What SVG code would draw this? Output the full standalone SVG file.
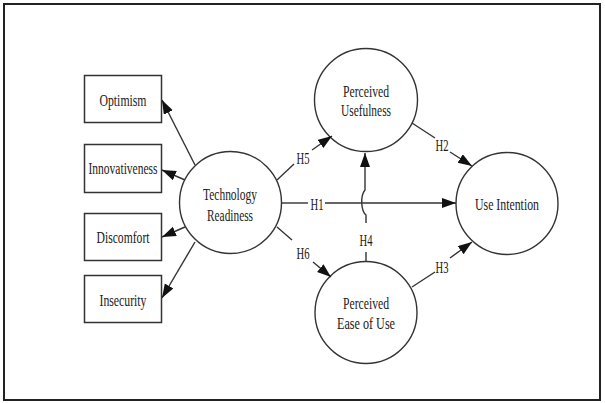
<svg xmlns="http://www.w3.org/2000/svg" width="605" height="403" viewBox="0 0 605 403">
<style>
.frame{fill:#fff;stroke:#222;stroke-width:2}
.box{fill:#fff;stroke:#333;stroke-width:1.5}
.node{fill:#fff;stroke:#333;stroke-width:1.4}
.t{font-family:"Liberation Serif","Times New Roman",serif;font-size:17px;fill:#1a1a1a;text-anchor:middle}
.lbl{font-family:"Liberation Serif","Times New Roman",serif;font-size:16px;fill:#1a1a1a;text-anchor:middle}
.ln{fill:none;stroke:#333;stroke-width:1.4}
</style>
<defs>
<marker id="ah" markerUnits="userSpaceOnUse" markerWidth="15" markerHeight="11" refX="14" refY="5" orient="auto">
<path d="M0,0 L14,5 L0,10 z" fill="#111"/>
</marker>
</defs>
<rect class="frame" x="4" y="4" width="596" height="396"/>

<g id="optimism"><rect class="box" x="84.5" y="75.5" width="77" height="47"/><text class="t" x="123" y="105.5" textLength="47" lengthAdjust="spacingAndGlyphs">Optimism</text></g>
<g id="innovativeness"><rect class="box" x="84.5" y="144.5" width="77" height="48"/><text class="t" x="123" y="173.5" textLength="69" lengthAdjust="spacingAndGlyphs">Innovativeness</text></g>
<g id="discomfort"><rect class="box" x="84.5" y="213.5" width="77" height="47"/><text class="t" x="123" y="242.5" textLength="53" lengthAdjust="spacingAndGlyphs">Discomfort</text></g>
<g id="insecurity"><rect class="box" x="84.5" y="275.5" width="77" height="47"/><text class="t" x="123" y="305.5" textLength="47" lengthAdjust="spacingAndGlyphs">Insecurity</text></g>

<g id="technology-readiness"><circle class="node" cx="230.5" cy="202.5" r="51"/><text class="t" x="230" y="199.5" textLength="54" lengthAdjust="spacingAndGlyphs">Technology</text><text class="t" x="230" y="220.5" textLength="46" lengthAdjust="spacingAndGlyphs">Readiness</text></g>
<g id="perceived-usefulness"><circle class="node" cx="366" cy="100" r="51.5"/><text class="t" x="366" y="96.5" textLength="46" lengthAdjust="spacingAndGlyphs">Perceived</text><text class="t" x="366" y="115.5" textLength="50" lengthAdjust="spacingAndGlyphs">Usefulness</text></g>
<g id="perceived-ease-of-use"><circle class="node" cx="366" cy="312.5" r="51"/><text class="t" x="366" y="308.5" textLength="46" lengthAdjust="spacingAndGlyphs">Perceived</text><text class="t" x="366" y="328.5" textLength="58" lengthAdjust="spacingAndGlyphs">Ease of Use</text></g>
<g id="use-intention"><circle class="node" cx="507" cy="203.5" r="51"/><text class="t" x="507" y="209.5" textLength="64" lengthAdjust="spacingAndGlyphs">Use Intention</text></g>

<g id="connectors">
<line class="ln" x1="195" y1="165" x2="162" y2="100" marker-end="url(#ah)"/>
<line class="ln" x1="185" y1="180" x2="162" y2="170" marker-end="url(#ah)"/>
<line class="ln" x1="185" y1="227" x2="162" y2="237" marker-end="url(#ah)"/>
<line class="ln" x1="195" y1="242" x2="162" y2="298" marker-end="url(#ah)"/>

<line class="ln" x1="277" y1="180" x2="294" y2="164"/>
<line class="ln" x1="312" y1="150" x2="332" y2="136" marker-end="url(#ah)"/>
<text class="lbl" x="303" y="163.5" textLength="13" lengthAdjust="spacingAndGlyphs">H5</text>

<line class="ln" x1="282" y1="203" x2="308" y2="203"/>
<line class="ln" x1="325" y1="203" x2="456" y2="203" marker-end="url(#ah)"/>
<text class="lbl" x="317" y="209.5" textLength="13" lengthAdjust="spacingAndGlyphs">H1</text>

<line class="ln" x1="277" y1="227" x2="292" y2="240"/>
<line class="ln" x1="313" y1="262" x2="331" y2="277" marker-end="url(#ah)"/>
<text class="lbl" x="303" y="258.5" textLength="13" lengthAdjust="spacingAndGlyphs">H6</text>

<line class="ln" x1="366" y1="262" x2="366" y2="252"/>
<path class="ln" d="M366,223 L366,215 C361,211 360,196 365,190 L365,153" marker-end="url(#ah)"/>
<text class="lbl" x="366" y="245.5" textLength="13" lengthAdjust="spacingAndGlyphs">H4</text>

<line class="ln" x1="412" y1="123" x2="435" y2="138"/>
<line class="ln" x1="450" y1="152" x2="472" y2="166" marker-end="url(#ah)"/>
<text class="lbl" x="442" y="150.5" textLength="13" lengthAdjust="spacingAndGlyphs">H2</text>

<line class="ln" x1="412" y1="287" x2="435" y2="272"/>
<line class="ln" x1="450" y1="258" x2="472" y2="242" marker-end="url(#ah)"/>
<text class="lbl" x="442" y="272.5" textLength="13" lengthAdjust="spacingAndGlyphs">H3</text>
</g>
</svg>
